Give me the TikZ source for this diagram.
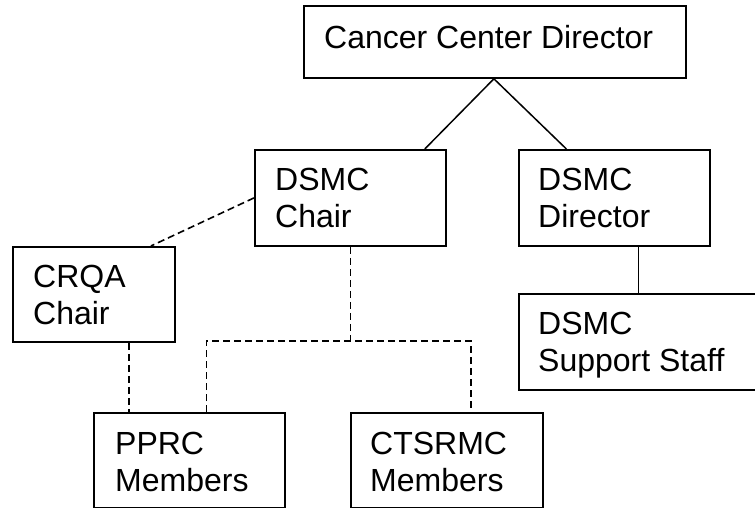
\documentclass[tikz,border=0pt]{standalone}
\usepackage{fontspec}
\setmainfont{Liberation Sans}
\begin{document}
\begin{tikzpicture}[x=1pt,y=-1pt,
  box/.style={draw=black, line width=1.8pt, rectangle, inner sep=0pt, anchor=north west},
  lbl/.style={anchor=north west, inner sep=0pt, align=left, font=\fontsize{32}{37}\selectfont},
  solidline/.style={draw=black, line width=1.5pt},
  dashline/.style={draw=black, line width=1.6pt, dash pattern=on 7pt off 4pt}]
\useasboundingbox (0,0) rectangle (755,508);
% boxes
\node[box, minimum width=382pt, minimum height=72pt] (ccd) at (303,5) {};
\node[box, minimum width=191pt, minimum height=96pt] (chair) at (254,149) {};
\node[box, minimum width=191pt, minimum height=96pt] (dir) at (518,149) {};
\node[box, minimum width=162pt, minimum height=95pt] (crqa) at (12,246) {};
\node[box, minimum width=250pt, minimum height=96pt] (staff) at (518,293) {};
\node[box, minimum width=191pt, minimum height=95pt] (pprc) at (93,412) {};
\node[box, minimum width=192pt, minimum height=95pt] (ctsrmc) at (350,412) {};
% texts
\node[lbl] (ccdT) at (324,25) {Cancer Center Director};
\node[lbl] (chairT) at (275,168) {DSMC\\Chair};
\node[lbl] (dirT) at (538,168) {DSMC\\Director};
\node[lbl] (crqaT) at (33,265) {CRQA\\Chair};
\node[lbl] (staffT) at (538,312) {DSMC\\Support Staff};
\node[lbl] (pprcT) at (115,432) {PPRC\\Members};
\node[lbl] (ctsrmcT) at (370,432) {CTSRMC\\Members};
% solid connectors
\coordinate (apex) at ([xshift=-1pt]ccd.south);
\draw[solidline] (apex) -- ([xshift=-22pt]chair.north east);
\draw[solidline] (apex) -- ([xshift=-48pt]dir.north);
\draw[solidline] ([xshift=24pt]dir.south) -- ([xshift=24pt]dir.south |- staff.north);
% dashed connectors
\draw[dashline] (chair.west) -- ([xshift=57pt]crqa.north);
\draw[dashline] ([xshift=35pt]crqa.south) -- ([xshift=35pt]crqa.south |- pprc.north);
\coordinate (jn) at ([yshift=-94pt]chair.south);
\draw[dashline] (chair.south) -- (jn);
\draw[dashline] ([xshift=17pt]pprc.north) |- (jn) -| ([xshift=24pt]ctsrmc.north);
\end{tikzpicture}
\end{document}
